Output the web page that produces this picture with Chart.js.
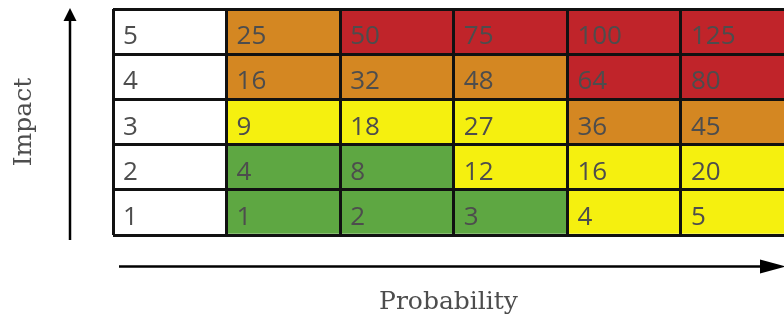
<!DOCTYPE html>
<html>
<head>
<meta charset="utf-8">
<script src="https://cdn.jsdelivr.net/npm/chart.js@4.4.0/dist/chart.umd.min.js"></script>
<style>
  html, body { margin: 0; padding: 0; background: #fff; overflow: hidden; }
</style>
</head>
<body>
<canvas id="riskChart" width="784" height="322"></canvas>
<script>
// rows bottom -> top
const impactLevels = [1, 2, 3, 4, 5];
const probabilityLevels = [1, 2, 3, 4, 5];

// score shown in each cell, one row per impact level (bottom to top)
const scores = [
    [1, 2, 3, 4, 5],
    [4, 8, 12, 16, 20],
    [9, 18, 27, 36, 45],
    [16, 32, 48, 64, 80],
    [25, 50, 75, 100, 125]
];

// risk band of each cell: G = low, Y = medium, O = high, R = critical
const bands = [
    ['G', 'G', 'G', 'Y', 'Y'],
    ['G', 'G', 'Y', 'Y', 'Y'],
    ['Y', 'Y', 'Y', 'O', 'O'],
    ['O', 'O', 'O', 'R', 'R'],
    ['O', 'R', 'R', 'R', 'R']
];

const bandColors = { G: '#5EA742', Y: '#F5F00F', O: '#D48722', R: '#C0242A' };
const textColor = '#4d4d4d';
const cellFont = '26px "Open Sans", sans-serif';

/**
 * Cell numbers + impact labels in the first column
 */
const cellText = {
    id: 'cellText',
    afterDatasetsDraw(chart) {
        const { ctx, scales: { x, y } } = chart;
        ctx.save();
        ctx.font = cellFont;
        ctx.fillStyle = textColor;
        ctx.textBaseline = 'alphabetic';
        ctx.textAlign = 'left';
        impactLevels.forEach((imp, i) => {
            const base = y.getPixelForValue(imp - 1) - 10;
            ctx.fillText(String(imp), x.getPixelForValue(0) + 10, base);
            probabilityLevels.forEach((p, j) => {
                ctx.fillText(String(scores[i][j]), x.getPixelForValue(p) + 10, base);
            });
        });
        ctx.restore();
    }
};

/**
 * Axis arrows
 */
const axisArrows = {
    id: 'axisArrows',
    afterDraw(chart) {
        const { ctx, chartArea: a } = chart;
        ctx.save();
        ctx.strokeStyle = '#000';
        ctx.fillStyle = '#000';
        ctx.lineWidth = 2.5;

        // vertical (impact)
        const vx = a.left - 43;
        ctx.beginPath();
        ctx.moveTo(vx, a.bottom + 5);
        ctx.lineTo(vx, a.top + 12);
        ctx.stroke();
        ctx.beginPath();
        ctx.moveTo(vx, a.top - 1);
        ctx.lineTo(vx - 6.5, a.top + 12);
        ctx.lineTo(vx + 6.5, a.top + 12);
        ctx.closePath();
        ctx.fill();

        // horizontal (probability)
        const hy = a.bottom + 31.5;
        ctx.beginPath();
        ctx.moveTo(a.left + 6, hy);
        ctx.lineTo(a.right - 22, hy);
        ctx.stroke();
        ctx.beginPath();
        ctx.moveTo(a.right + 2, hy);
        ctx.lineTo(a.right - 24, hy - 7);
        ctx.lineTo(a.right - 24, hy + 7);
        ctx.closePath();
        ctx.fill();
        ctx.restore();
    }
};

const keepWholeTicks = axis => {
    axis.ticks = axis.ticks.filter(t => Number.isInteger(t.value));
};

const datasets = impactLevels.map((imp, i) => ({
    label: 'Impact ' + imp,
    data: probabilityLevels.map(p => ({ x: p + 0.5, y: [imp - 1, imp] })),
    backgroundColor: bands[i].map(b => bandColors[b]),
    borderWidth: 0,
    categoryPercentage: 1,
    barPercentage: 1,
    grouped: false
}));

new Chart(document.getElementById('riskChart'), {
    type: 'bar',
    data: { datasets },
    options: {
        responsive: false,
        animation: false,
        events: [],
        layout: { padding: { top: 9, left: 0, right: 0, bottom: 0 } },
        plugins: {
            legend: { display: false },
            tooltip: { enabled: false }
        },
        scales: {
            x: {
                type: 'linear',
                min: 0,
                max: 5.907,
                offset: false,
                afterBuildTicks: keepWholeTicks,
                ticks: { display: false, stepSize: 1 },
                grid: { color: '#111', lineWidth: 3, drawTicks: false, offset: false, z: 1 },
                border: { display: false },
                title: {
                    display: true,
                    text: 'Probability',
                    color: '#4d4d4d',
                    font: { family: 'DejaVu Serif', size: 25 },
                    padding: { top: 52, bottom: 5 }
                }
            },
            y: {
                min: 0,
                max: 5,
                afterBuildTicks: keepWholeTicks,
                ticks: { display: false, stepSize: 1 },
                grid: { color: '#111', lineWidth: 3, drawTicks: false, z: 1 },
                border: { display: false },
                title: {
                    display: true,
                    text: 'Impact',
                    color: '#4d4d4d',
                    font: { family: 'DejaVu Serif', size: 25 },
                    padding: { top: 9, bottom: 74 }
                }
            }
        }
    },
    plugins: [cellText, axisArrows]
});
</script>
</body>
</html>
